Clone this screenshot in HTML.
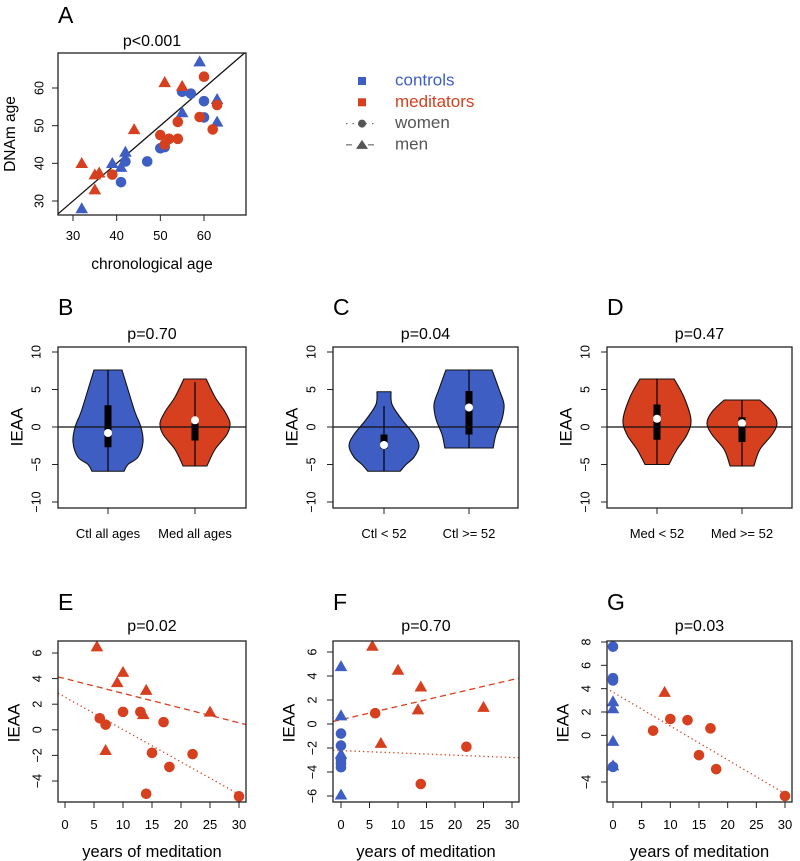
<!DOCTYPE html>
<html><head><meta charset="utf-8"><style>
html,body{margin:0;padding:0;background:#fff;}
svg{display:block;font-family:"Liberation Sans",Arial,sans-serif;}
</style></head><body>
<svg id="fig" width="800" height="861" viewBox="0 0 800 861"></svg>
<script>
const BLUE="#3f5ec4", RED="#d6401e";
// Panel A data: chronological age, DNAm age
const aBlueTriX=[32,39,41,42,55,59,63,63];
const aBlueTriY=[28,40,39,43,53.5,67,57,51];
const aBlueCirX=[41,42,47,50,51,55,57,60,60];
const aBlueCirY=[35,40.5,40.5,44,44.3,59,58.5,56.5,52.2];
const aRedTriX=[32,35,36,35,44,51,55];
const aRedTriY=[40,37,37.5,33,49,61.5,60.5];
const aRedCirX=[39,50,51,52,54,54,59,60,62,63];
const aRedCirY=[37,47.5,45,46.5,46.5,51,52.3,63,49,55.5];
const aTicks=[30,40,50,60];
// Panel E
const eTriX=[5.5,10,9,14,13.5,25,7];
const eTriY=[6.5,4.5,3.7,3.1,1.2,1.4,-1.6];
const eCirX=[6,7,10,13,17,15,22,18,14,30];
const eCirY=[0.9,0.4,1.4,1.4,0.6,-1.8,-1.9,-2.9,-5,-5.2];
const eMenLine=[4.0,-0.115];   // intercept, slope
const eWomenLine=[2.55,-0.253];
// Panel F
const fBlueTriY=[4.8,0.7,-2.5,-5.9];
const fBlueCirY=[-0.8,-1.8,-3,-3.3,-3.6];
const fRedTriX=[5.5,10,14,13.5,25,7];
const fRedTriY=[6.5,4.5,3.1,1.2,1.4,-1.6];
const fRedCirX=[6,22,14];
const fRedCirY=[0.9,-1.9,-5];
const fMenLine=[0.36,0.111];
const fWomenLine=[-2.22,-0.019];
// Panel G
const gBlueCirY=[7.6,4.9,4.7,-2.7];
const gBlueTriY=[2.9,2.3,-0.5,-2.6];
const gRedTriX=[9]; const gRedTriY=[3.7];
const gRedCirX=[7,10,13,17,15,18,30];
const gRedCirY=[0.4,1.4,1.3,0.6,-1.7,-2.9,-5.2];
const gWomenLine=[3.7,-0.29];
// Violin data: levels (IEAA) and relative density (0..1)
const vBlueAllLv=[7.6,5,2,0,-2,-4,-5,-5.9];
const vBlueAllD=[0.4,0.57,0.77,0.94,1,0.86,0.57,0.46];
const vRedAllLv=[6.4,4,2,0.5,-1,-3,-5.2];
const vRedAllD=[0.32,0.57,0.86,1,0.91,0.57,0.34];
const vCtlYLv=[4.7,3,1,-1,-2.5,-4,-5,-5.9];
const vCtlYD=[0.2,0.23,0.51,0.86,1,0.86,0.63,0.46];
const vCtlOLv=[7.6,5,3,1,-1,-2.8];
const vCtlOD=[0.66,0.86,1,0.94,0.77,0.69];
const vMedYLv=[6.4,4,1,-1,-3,-5];
const vMedYD=[0.49,0.77,0.97,0.86,0.57,0.34];
const vMedOLv=[3.6,2,0.5,-1,-3,-5.2];
const vMedOD=[0.51,0.86,1,0.86,0.51,0.34];
// box stats: whiskLo, q1, median, q3, whiskHi
const bBlueAll=[-5.9,-2.7,-0.8,2.9,7.6];
const bRedAll=[-5.2,-1.8,0.9,0.5,6];
const bCtlY=[-5.9,-2.9,-2.4,-1,2.8];
const bCtlO=[-2.8,-1,2.6,4.8,7.6];
const bMedY=[-5,-1.7,1.1,3,6.4];
const bMedO=[-5.2,-2,0.5,1.3,3.6];

const svg=document.getElementById('fig');
const NS="http://www.w3.org/2000/svg";
function el(tag,attrs,parent){const e=document.createElementNS(NS,tag);for(const k in attrs)e.setAttribute(k,attrs[k]);(parent||svg).appendChild(e);return e;}
function txt(s,x,y,size,attrs,parent){const t=el('text',Object.assign({x:x,y:y,'font-size':size,'text-anchor':'middle',fill:'#000'},attrs||{}),parent);t.textContent=s;return t;}
function lin(d0,d1,p0,p1){return v=>p0+(v-d0)*(p1-p0)/(d1-d0);}

function frame(g,x0,y0,x1,y1){
  const r=el('rect',{x:x0,y:y0,width:x1-x0,height:y1-y0,fill:'none',stroke:'#222','stroke-width':1.3},g);
  
}
function yAxis(g,ticks,sy,x0,labx,labels){
  ticks.forEach((t,i)=>{el('line',{x1:x0,x2:x0-6,y1:sy(t),y2:sy(t),stroke:'#222'},g);
    const tl=txt(labels?labels[i]:String(t).replace('-','\u2212'),labx,sy(t),12.5,{transform:`rotate(-90 ${labx} ${sy(t)})`,'dominant-baseline':'middle'},g);
    });
}
function xAxis(g,ticks,sx,y1,laby,labels,fs){
  ticks.forEach((t,i)=>{el('line',{x1:sx(t),x2:sx(t),y1:y1,y2:y1+6,stroke:'#222'},g);
    const tl=txt(labels?labels[i]:String(t),sx(t),laby,fs||13,{},g);
    });
}
function circ(g,x,y,c){const e=el('circle',{cx:x,cy:y,r:5.3,fill:c},g);}
function tri(g,x,y,c){const s=6.3;const e=el('polygon',{points:`${x},${y-s} ${x-s*1.0},${y+s*0.75} ${x+s*1.0},${y+s*0.75}`,fill:c},g);}
function panelLabel(s,x,y){const t=txt(s,x,y,23,{'text-anchor':'start'});}
function title(s,x,y){const t=txt(s,x,y,16);}

// ---- Panel A
(function(){
  const g=el('g',{});
  const sx=lin(30,60,73,204), sy=lin(30,60,201,88);
  const X0=58,X1=246,Y0=53,Y1=215;
  el('clipPath',{id:'ca'},g); el('rect',{x:X0,y:Y0,width:X1-X0,height:Y1-Y0},document.getElementById('ca'));
  const ix=v=>30+(v-73)*30/131;
  const dl=el('line',{x1:X0,y1:sy(ix(X0)),x2:X1,y2:sy(ix(X1)),stroke:'#111','stroke-width':1.3,'clip-path':'url(#ca)'},g);
  
  aBlueTriX.forEach((v,i)=>tri(g,sx(v),sy(aBlueTriY[i]),BLUE));
  aBlueCirX.forEach((v,i)=>circ(g,sx(v),sy(aBlueCirY[i]),BLUE));
  aRedTriX.forEach((v,i)=>tri(g,sx(v),sy(aRedTriY[i]),RED));
  aRedCirX.forEach((v,i)=>circ(g,sx(v),sy(aRedCirY[i]),RED));
  frame(g,X0,Y0,X1,Y1);
  xAxis(g,aTicks,sx,Y1,240);
  yAxis(g,aTicks,sy,X0,40);
  const xl=txt('chronological age',152,269,15.5,{},g);
  const yl=txt('DNAm age',11,134,15.5,{transform:'rotate(-90 11 134)','dominant-baseline':'middle'},g);
  panelLabel('A',58,23);title('p<0.001',152,46);
})();

// ---- Legend
(function(){
  const g=el('g',{});
  const rows=[['controls',BLUE,'sq'],['meditators',RED,'sq'],['women','#555','c'],['men','#555','t']];
  rows.forEach((r,i)=>{const y=81+i*21.3;
    if(r[2]=='sq'){const s=el('rect',{x:358,y:y-4,width:8,height:8,fill:r[1]},g);}
    else if(r[2]=='c'){el('line',{x1:346,x2:376,y1:y,y2:y,stroke:'#555','stroke-dasharray':'1.5 5'},g);el('circle',{cx:362,cy:y,r:4,fill:'#555'},g);}
    else {el('line',{x1:346,x2:378,y1:y,y2:y,stroke:'#555','stroke-dasharray':'6 16','stroke-dashoffset':0},g);el('polygon',{points:`362,${y-5} 356,${y+4} 368,${y+4}`,fill:'#555'},g);}
    const t=txt(r[0],395,y,17,{'text-anchor':'start','dominant-baseline':'middle',fill:r[2]=='sq'?r[1]:'#555'},g);
    });
})();

function smoothSide(pts){
  let d='';
  for(let i=0;i<pts.length-1;i++){
    const p0=pts[Math.max(0,i-1)],p1=pts[i],p2=pts[i+1],p3=pts[Math.min(pts.length-1,i+2)];
    const c1=[p1[0]+(p2[0]-p0[0])/6,p1[1]+(p2[1]-p0[1])/6];
    const c2=[p2[0]-(p3[0]-p1[0])/6,p2[1]-(p3[1]-p1[1])/6];
    d+=` C${c1[0]},${c1[1]} ${c2[0]},${c2[1]} ${p2[0]},${p2[1]}`;
  }
  return d;
}
// ---- Violin panels
function violinPanel(name,letter,p,X0,X1,centers,labels,vs){
  const g=el('g',{});
  const sy=lin(10,-10,352,502);const Y0=347,Y1=508;
  const HW=35;
  vs.forEach((v,k)=>{const [lv,d,col,b]=v;const cx=centers[k];
    const right=lv.map((l,i)=>[cx+d[i]*HW,sy(l)]);
    const left=lv.map((l,i)=>[cx-d[i]*HW,sy(l)]).reverse();
    const path=`M${right[0][0]},${right[0][1]}`+smoothSide(right)+` L${left[0][0]},${left[0][1]}`+smoothSide(left)+' Z';
    const pg=el('path',{d:path,fill:col,stroke:'#111','stroke-width':1.1,'stroke-linejoin':'round'},g);
    
    el('line',{x1:cx,x2:cx,y1:sy(b[0]),y2:sy(b[4]),stroke:'#000','stroke-width':1.2},g);
    const bx=el('rect',{x:cx-3.5,y:sy(Math.max(b[1],b[3])),width:7,height:Math.abs(sy(b[1])-sy(b[3])),fill:'#000'},g);
    
    const m=el('circle',{cx:cx,cy:sy(b[2]),r:4,fill:'#fff'},g);
  });
  el('line',{x1:X0,x2:X1,y1:sy(0),y2:sy(0),stroke:'#111','stroke-width':1.2},g);
  frame(g,X0,Y0,X1,Y1);
  centers.forEach((c,i)=>{el('line',{x1:c,x2:c,y1:Y1,y2:Y1+6,stroke:'#222'},g);
    const t=txt(labels[i],c,538,13,{},g);});
  yAxis(g,[-10,-5,0,5,10],sy,X0,X0-21,['\u221210','\u22125','0','5','10']);
  const yl=txt('IEAA',X0-40,427,17,{transform:`rotate(-90 ${X0-40} 427)`,'dominant-baseline':'middle'},g);
  
  panelLabel(letter,X0,315);title(p,(X0+X1)/2,339);
}
violinPanel('panel-b','B','p=0.70',58,246,[108,195],['Ctl all ages','Med all ages'],
  [[vBlueAllLv,vBlueAllD,BLUE,bBlueAll],[vRedAllLv,vRedAllD,RED,bRedAll]]);
violinPanel('panel-c','C','p=0.04',333,518,[384,469],['Ctl < 52','Ctl >= 52'],
  [[vCtlYLv,vCtlYD,BLUE,bCtlY],[vCtlOLv,vCtlOD,BLUE,bCtlO]]);
violinPanel('panel-d','D','p=0.47',607,792,[657,742],['Med < 52','Med >= 52'],
  [[vMedYLv,vMedYD,RED,bMedY],[vMedOLv,vMedOD,RED,bMedO]]);

// ---- Scatter panels E,F,G
function regLine(g,sx,sy,X0,X1,line,dash,clip){
  const inv=px=>(px-sx(0))*30/(sx(30)-sx(0));
  const a=inv(X0),b=inv(X1);
  const l=el('line',{x1:X0,x2:X1,y1:sy(line[0]+line[1]*a),y2:sy(line[0]+line[1]*b),stroke:RED,'stroke-width':1.3,'stroke-dasharray':dash,'clip-path':clip},g);
  
}
function scatterPanel(name,letter,p,X0,X1,sx,sy,yt,labx,draw){
  const g=el('g',{});
  const Y0=641,Y1=802;
  const cid='c'+letter;el('clipPath',{id:cid},g);el('rect',{x:X0,y:Y0,width:X1-X0,height:Y1-Y0},document.getElementById(cid));
  draw(g,Y0,Y1,'url(#'+cid+')');
  frame(g,X0,Y0,X1,Y1);
  xAxis(g,[0,5,10,15,20,25,30],sx,Y1,829);
  yAxis(g,yt,sy,X0,labx,yt.map(v=>String(v).replace('-','\u2212')));
  const xl=txt('years of meditation',(X0+X1)/2,857,16.5,{},g);
  const yx=X0-43;
  const yl=txt('IEAA',yx,723,17,{transform:`rotate(-90 ${yx} 723)`,'dominant-baseline':'middle'},g);
  panelLabel(letter,X0,610);title(p,(X0+X1)/2,631);
}
(function(){
  const sx=lin(0,30,65,239), sy=lin(6,-4,653,781);
  scatterPanel('panel-e','E','p=0.02',58,246,sx,sy,[-4,-2,0,2,4,6],38,(g,Y0,Y1,clip)=>{
    regLine(g,sx,sy,58,246,eMenLine,'6 4',clip);
    regLine(g,sx,sy,58,246,eWomenLine,'1.3 3',clip);
    eTriX.forEach((v,i)=>tri(g,sx(v),sy(eTriY[i]),RED));
    eCirX.forEach((v,i)=>circ(g,sx(v),sy(eCirY[i]),RED));
  });
})();
(function(){
  const sx=lin(0,30,341,512), sy=lin(6,-6,652,796);
  scatterPanel('panel-f','F','p=0.70',333,519,sx,sy,[-6,-4,-2,0,2,4,6],313,(g,Y0,Y1,clip)=>{
    regLine(g,sx,sy,333,519,fMenLine,'6 4',clip);
    regLine(g,sx,sy,333,519,fWomenLine,'1.3 3',clip);
    fBlueTriY.forEach(v=>tri(g,sx(0),sy(v),BLUE));
    fBlueCirY.forEach(v=>circ(g,sx(0),sy(v),BLUE));
    fRedTriX.forEach((v,i)=>tri(g,sx(v),sy(fRedTriY[i]),RED));
    fRedCirX.forEach((v,i)=>circ(g,sx(v),sy(fRedCirY[i]),RED));
  });
})();
(function(){
  const sx=lin(0,30,613,785), sy=lin(8,-4,642,782);
  scatterPanel('panel-g','G','p=0.03',607,792,sx,sy,[-4,0,2,4,6,8],587,(g,Y0,Y1,clip)=>{
    regLine(g,sx,sy,610,792,gWomenLine,'1.3 3',clip);
    gBlueTriY.forEach(v=>tri(g,sx(0),sy(v),BLUE));
    gBlueCirY.forEach(v=>circ(g,sx(0),sy(v),BLUE));
    gRedTriX.forEach((v,i)=>tri(g,sx(v),sy(gRedTriY[i]),RED));
    gRedCirX.forEach((v,i)=>circ(g,sx(v),sy(gRedCirY[i]),RED));
  });
})();
</script>
</body></html>
